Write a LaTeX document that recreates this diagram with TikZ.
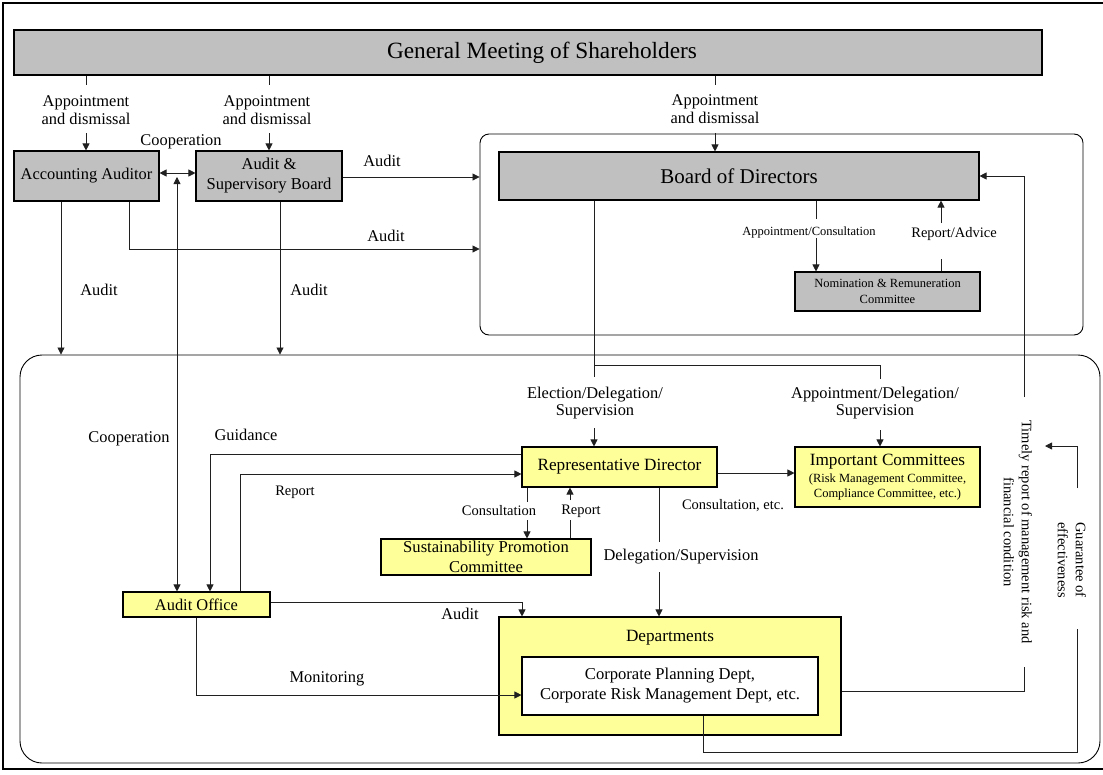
\documentclass[tikz,border=0pt]{standalone}
\usepackage{fontspec}
\setmainfont{Liberation Serif}
\usetikzlibrary{arrows.meta}
\definecolor{boxgray}{HTML}{C0C0C0}
\definecolor{boxyellow}{HTML}{FFFF99}
\definecolor{linecol}{HTML}{202020}
\newcommand\fsmain{\fontsize{16.4}{17.5}\selectfont}
\newcommand\fsbox{\fontsize{16.6}{20}\selectfont}
\newcommand\fsmed{\fontsize{14.5}{18}\selectfont}
\newcommand\fssmall{\fontsize{12.5}{15.5}\selectfont}
\newcommand\fsbig{\fontsize{17.2}{20}\selectfont}
\newcommand\fsgm{\fontsize{23.3}{26}\selectfont}
\newcommand\fsbod{\fontsize{21}{24}\selectfont}
\tikzset{
  box/.style={draw, line width=1.1pt, inner sep=0pt, align=center},
  gbox/.style={box, fill=boxgray},
  ybox/.style={box, fill=boxyellow},
  wbox/.style={box, fill=white},
  cont/.style={draw, line width=0.9pt, inner sep=0pt},
  conn/.style={line width=0.8pt, draw=linecol},
  arr/.style={conn, -{Triangle[length=7pt,width=7pt]}},
  darr/.style={conn, {Triangle[length=7pt,width=7pt]}-{Triangle[length=7pt,width=7pt]}},
  lbl/.style={inner sep=0pt, align=center, font=\fsmain},
}
\begin{document}
\begin{tikzpicture}[x=1pt,y=-1pt]
\useasboundingbox (0,0) rectangle (1103,774);
% outer frame
\draw[line width=1.2pt] (1103,3) -- (3,3) -- (3,769) -- (1103,769);

% containers
\node[cont, rounded corners=9pt, minimum width=603pt, minimum height=201pt] (bc) at (781.5,234.5) {};
\node[cont, rounded corners=22pt, minimum width=1080pt, minimum height=408pt] (big) at (560,559) {};

% boxes
\node[gbox, minimum width=1028pt, minimum height=45pt] (gm) at (528,52.5) {};
\node[font=\fsgm, inner sep=0pt] (gmt) at (542,53) {General Meeting of Shareholders};
\node[gbox, font=\fsmain, minimum width=145pt, minimum height=50pt] (aa) at (86.5,176) {Accounting Auditor};
\node[gbox, font=\fsbox, minimum width=146pt, minimum height=50pt] (asb) at (269,176) {Audit \&\\Supervisory Board};
\node[gbox, font=\fsbod, minimum width=480pt, minimum height=48pt] (bod) at (739,176) {Board of Directors};
\node[gbox, font=\fssmall, minimum width=185pt, minimum height=39pt] (nrc) at (887.5,291.5) {Nomination \& Remuneration\\Committee};
\node[ybox, font=\fsbig, minimum width=195pt, minimum height=40pt] (rd) at (619.5,467) {Representative Director};
\node[ybox, font=\fssmall, minimum width=185pt, minimum height=60pt] (ic) at (887.5,477) {{\fsbig Important Committees}\\[1.5pt](Risk Management Committee,\\Compliance Committee, etc.)};
\node[ybox, font=\fsbox, minimum width=210pt, minimum height=36pt] (spc) at (486,557) {Sustainability Promotion\\Committee};
\node[ybox, font=\fsmain, minimum width=147pt, minimum height=25pt] (ao) at (196.5,604.5) {Audit Office};
\node[ybox, minimum width=342pt, minimum height=118pt] (dept) at (670,676) {};
\node[font=\fsbig, inner sep=0pt] (deptt) at (670,638) {Departments};
\node[wbox, font=\fsbox, minimum width=296pt, minimum height=58pt] (inner) at (670,686) {Corporate Planning Dept,\\Corporate Risk Management Dept, etc.};

% GM -> Accounting Auditor
\coordinate (a1t) at (86,85);
\coordinate (a1b) at (86,133);
\node[lbl] (appt1) at (86,110) {Appointment\\and dismissal};
\draw[conn] (gm.south -| a1t) -- (a1t);
\draw[arr] (a1b) -- (aa.north -| a1b);
% GM -> ASB
\coordinate (a2t) at (269,85);
\coordinate (a2b) at (269,133);
\node[lbl] (appt2) at (267,110) {Appointment\\and dismissal};
\draw[conn] (gm.south -| a2t) -- (a2t);
\draw[arr] (a2b) -- (asb.north -| a2b);
% GM -> BoD
\coordinate (a3t) at (715,85);
\coordinate (a3b) at (715,133);
\node[lbl] (appt3) at (715,109) {Appointment\\and dismissal};
\draw[conn] (gm.south -| a3t) -- (a3t);
\draw[arr] (a3b) -- (bod.north -| a3b);

% cooperation AA <-> ASB
\node[lbl] (coop1) at (181,142) {Cooperation};
\draw[darr] ([yshift=3pt]aa.east) -- ([yshift=3pt]asb.west);
% cooperation vertical to audit office
\coordinate (coopt) at (177,177);
\draw[darr] (coopt) -- (coopt |- ao.north);
\node[lbl] (coop2) at (129,439) {Cooperation};

% ASB -> board container
\draw[arr] ([yshift=-1pt]asb.east) -- ([yshift=-1pt]asb.east -| bc.west);
\node[lbl] (aud1) at (382,161) {Audit};
% AA -> board container
\coordinate (aab) at (129,249);
\draw[arr] (aa.south -| aab) -- (aab) -- (aab -| bc.west);
\node[lbl] (aud2) at (386,236) {Audit};
% AA -> big container
\coordinate (aal) at (61,300);
\draw[arr] (aa.south -| aal) -- (big.north -| aal);
\node[lbl] (aud3) at (99,290) {Audit};
% ASB -> big container
\coordinate (asbd) at (280,300);
\draw[arr] (asb.south -| asbd) -- (big.north -| asbd);
\node[lbl] (aud4) at (309,290) {Audit};

% BoD -> NRC
\coordinate (n1t) at (816,219);
\coordinate (n1b) at (816,238);
\node[lbl, font=\fssmall] (apcons) at (809,232) {Appointment/Consultation};
\draw[conn] (bod.south -| n1t) -- (n1t);
\draw[arr] (n1b) -- (nrc.north -| n1b);
% NRC -> BoD
\coordinate (n2b) at (941,259);
\coordinate (n2t) at (941,223);
\node[lbl, font=\fsmed] (repadv) at (954,234) {Report/Advice};
\draw[conn] (nrc.north -| n2b) -- (n2b);
\draw[arr] (n2t) -- (bod.south -| n2t);

% BoD -> RD and IC
\coordinate (rdt) at (594,365);
\coordinate (rdr) at (880,365);
\coordinate (ict1) at (880,379);
\coordinate (rdl1) at (594,377);
\coordinate (rdl2) at (594,428);
\coordinate (ict2) at (880,430);
\draw[conn] (bod.south -| rdt) -- (rdt) -- (rdr) -- (ict1);
\draw[conn] (rdt) -- (rdl1);
\node[lbl] (elect) at (595,403) {Election/Delegation/\\Supervision};
\node[lbl] (apdel) at (875,403) {Appointment/Delegation/\\Supervision};
\draw[arr] (rdl2) -- (rd.north -| rdl2);
\draw[arr] (ict2) -- (ic.north -| ict2);

% RD -> IC
\coordinate (ica) at (750,473);
\draw[arr] (rd.east |- ica) -- (ic.west |- ica);
\node[lbl, font=\fsmed] (consetc) at (733,506) {Consultation, etc.};

% RD -> SPC
\coordinate (c1t) at (527,502);
\coordinate (c1b) at (527,520);
\node[lbl, font=\fsmed] (cons) at (499,511) {Consultation};
\draw[conn] (rd.south -| c1t) -- (c1t);
\draw[arr] (c1b) -- (spc.north -| c1b);
% SPC -> RD
\coordinate (r1b) at (570,520);
\coordinate (r1t) at (570,500);
\node[lbl, font=\fsmed] (rep1) at (581,511) {Report};
\draw[conn] (spc.north -| r1b) -- (r1b);
\draw[arr] (r1t) -- (rd.south -| r1t);

% RD -> Departments
\coordinate (d1t) at (659,542);
\coordinate (d1b) at (659,572);
\node[lbl] (delsup) at (681,557) {Delegation/Supervision};
\draw[conn] (rd.south -| d1t) -- (d1t);
\draw[arr] (d1b) -- (dept.north -| d1b);

% Guidance: RD -> Audit Office
\coordinate (gd) at (210,454);
\draw[arr] (rd.west |- gd) -- (gd) -- (gd |- ao.north);
\node[lbl] (guid) at (246,435) {Guidance};
% Report: Audit Office -> RD
\coordinate (rp) at (240,474);
\draw[arr] (ao.north -| rp) -- (rp) -- (rp -| rd.west);
\node[lbl, font=\fsmed] (rep2) at (295,492) {Report};

% Audit Office -> Departments
\coordinate (aoa) at (522,602);
\draw[arr] (ao.east |- aoa) -- (aoa) -- (aoa |- dept.north);
\node[lbl] (aud5) at (460,614) {Audit};
% Monitoring
\coordinate (mon) at (196,695);
\draw[arr] (ao.south -| mon) -- (mon) -- (mon -| inner.west);
\node[lbl] (monl) at (327,679) {Monitoring};

% Timely report
\coordinate (t1) at (1024,691);
\coordinate (t2) at (1024,667);
\coordinate (t3) at (1024,397);
\draw[conn] (dept.east |- t1) -- (t1) -- (t2);
\draw[arr] (t3) -- (t3 |- bod.east) -- (bod.east);
\node[lbl, font=\fsmed, rotate=-90] (timely) at (1018,532) {Timely report of management risk and\\financial condition};

% Guarantee of effectiveness
\coordinate (g0) at (703,752);
\coordinate (g1) at (1077,752);
\coordinate (g2) at (1077,629);
\coordinate (g3) at (1077,488);
\coordinate (g4) at (1077,446);
\coordinate (g5) at (1045,446);
\draw[conn] (inner.south -| g0) -- (g0) -- (g1) -- (g2);
\draw[arr] (g3) -- (g4) -- (g5);
\node[lbl, font=\fsmed, rotate=-90] (guar) at (1072,560) {Guarantee of\\effectiveness};
\end{tikzpicture}
\end{document}
